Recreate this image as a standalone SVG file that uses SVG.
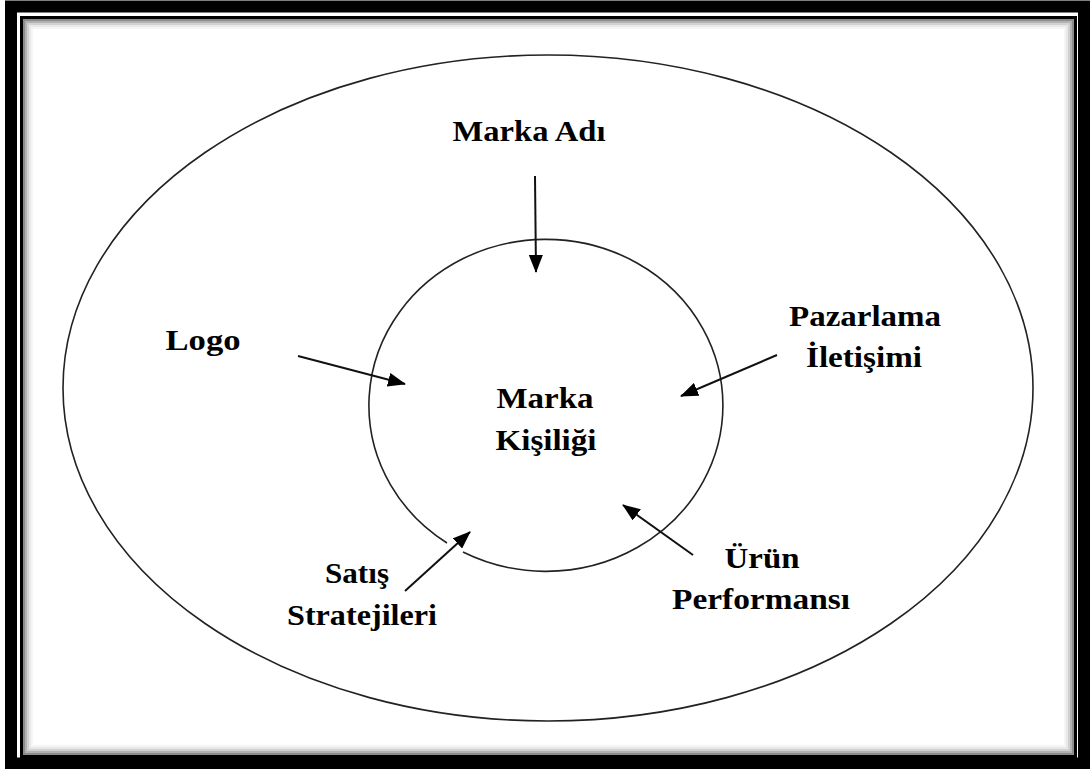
<svg xmlns="http://www.w3.org/2000/svg" width="1091" height="769" viewBox="0 0 1091 769">
  <style>
    .lbl { font-family: "Liberation Serif", "Times New Roman", serif; font-weight: bold; font-size: 30px; fill: #000; text-anchor: middle; }
    .ring { fill: none; stroke: #222; stroke-width: 1.6; }
    .arrow { fill: none; stroke: #111; stroke-width: 2; marker-end: url(#head); }
  </style>
  <defs>
    <marker id="head" markerUnits="userSpaceOnUse" markerWidth="18" markerHeight="14" refX="17" refY="7" orient="auto">
      <path d="M0,0 L18,7 L0,14 z" fill="#000"/>
    </marker>
  </defs>

  <rect width="1091" height="769" fill="#fff"/>

  <!-- frame: heavy outer border, thin inner rule, soft inner shading -->
  <g id="frame">
    <rect x="11" y="6.5" width="1073" height="757" fill="none" stroke="#000" stroke-width="12"/>
    <rect x="21.5" y="17.5" width="1054" height="739" fill="none" stroke="#000" stroke-width="3"/>
    <rect x="24" y="20" width="1049" height="734" fill="none" stroke="#000" stroke-opacity="0.45" stroke-width="2"/>
    <rect x="26" y="22" width="1045" height="730" fill="none" stroke="#000" stroke-opacity="0.3" stroke-width="2"/>
    <rect x="28" y="24" width="1041" height="726" fill="none" stroke="#000" stroke-opacity="0.18" stroke-width="2"/>
    <rect x="30" y="26" width="1037" height="722" fill="none" stroke="#000" stroke-opacity="0.09" stroke-width="2"/>
    <rect x="32" y="28" width="1033" height="718" fill="none" stroke="#000" stroke-opacity="0.04" stroke-width="2"/>
  </g>

  <!-- outer field -->
  <g id="outer-ellipse">
    <ellipse class="ring" cx="548" cy="388" rx="485" ry="333"/>
  </g>

  <!-- core: brand personality -->
  <g id="marka-kisiligi">
    <path class="ring" d="M463,552 A177,166 0 1 0 447,543"/>
    <text class="lbl" x="545" y="408" textLength="97" lengthAdjust="spacingAndGlyphs">Marka</text>
    <text class="lbl" x="546" y="450" textLength="101" lengthAdjust="spacingAndGlyphs">Kişiliği</text>
  </g>

  <g id="marka-adi">
    <text class="lbl" x="529" y="141" textLength="153" lengthAdjust="spacingAndGlyphs">Marka Adı</text>
  </g>

  <g id="logo">
    <text class="lbl" x="203" y="350" textLength="75" lengthAdjust="spacingAndGlyphs">Logo</text>
  </g>

  <g id="pazarlama-iletisimi">
    <text class="lbl" x="865" y="326" textLength="152" lengthAdjust="spacingAndGlyphs">Pazarlama</text>
    <text class="lbl" x="864" y="367" textLength="116" lengthAdjust="spacingAndGlyphs">İletişimi</text>
  </g>

  <g id="satis-stratejileri">
    <text class="lbl" x="357" y="583" textLength="64" lengthAdjust="spacingAndGlyphs">Satış</text>
    <text class="lbl" x="362" y="625" textLength="150" lengthAdjust="spacingAndGlyphs">Stratejileri</text>
  </g>

  <g id="urun-performansi">
    <text class="lbl" x="762" y="568" textLength="75" lengthAdjust="spacingAndGlyphs">Ürün</text>
    <text class="lbl" x="761" y="609" textLength="178" lengthAdjust="spacingAndGlyphs">Performansı</text>
  </g>

  <g id="connectors">
    <line class="arrow" x1="535" y1="176" x2="536" y2="272"/>
    <line class="arrow" x1="298" y1="356" x2="405" y2="384"/>
    <line class="arrow" x1="777" y1="355" x2="681" y2="396"/>
    <line class="arrow" x1="405" y1="591" x2="470" y2="532"/>
    <line class="arrow" x1="693" y1="555" x2="623" y2="505"/>
  </g>
</svg>
